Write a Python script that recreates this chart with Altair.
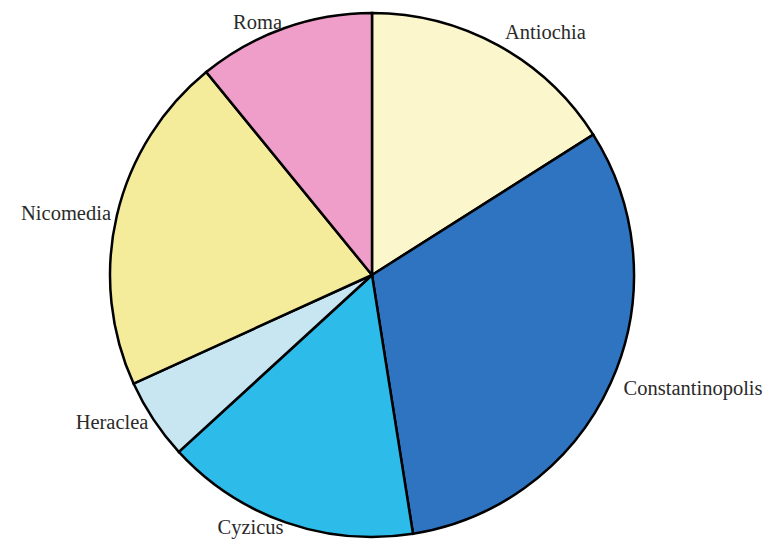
import altair as alt
import pandas as pd

cities = ["Antiochia", "Constantinopolis", "Cyzicus", "Heraclea", "Nicomedia", "Roma"]
shares = [16.0, 31.5, 15.7, 5.0, 20.9, 10.9]
colors = ["#FBF6CC", "#2F74C0", "#2DBBEA", "#C8E5F2", "#F5EC9B", "#EE9EC8"]

df = pd.DataFrame({"city": cities, "share": shares, "idx": list(range(len(cities)))})
total = float(sum(shares))

base = alt.Chart(df)

arcs = base.mark_arc(outerRadius=262, stroke="black", strokeWidth=2.5).encode(
    theta=alt.Theta("share:Q", stack=True, scale=alt.Scale(domain=[0, total])),
    color=alt.Color("city:N", scale=alt.Scale(domain=cities, range=colors), legend=None),
    order=alt.Order("idx:Q"),
)

lab = base.transform_window(
    cum="sum(share)", sort=[alt.SortField("idx")], frame=[None, 0]
).transform_calculate(mid="datum.cum - datum.share / 2")

text_props = dict(font="Liberation Serif", fontSize=20.5, color="#2a2a2a", baseline="middle")

right_labels = lab.transform_filter(f"datum.mid < {total / 2}").mark_text(
    align="left", radius=276, **text_props
).encode(
    theta=alt.Theta("mid:Q", stack=None, scale=alt.Scale(domain=[0, total])),
    text="city:N",
)

left_labels = lab.transform_filter(f"datum.mid >= {total / 2}").mark_text(
    align="right", radius=268, **text_props
).encode(
    theta=alt.Theta("mid:Q", stack=None, scale=alt.Scale(domain=[0, total])),
    text="city:N",
)

chart = alt.layer(arcs, right_labels, left_labels).properties(
    width=728, height=530, padding=0, background="white"
).configure_view(stroke=None)

chart.save("out.html", embed_options={"renderer": "svg", "actions": False})
